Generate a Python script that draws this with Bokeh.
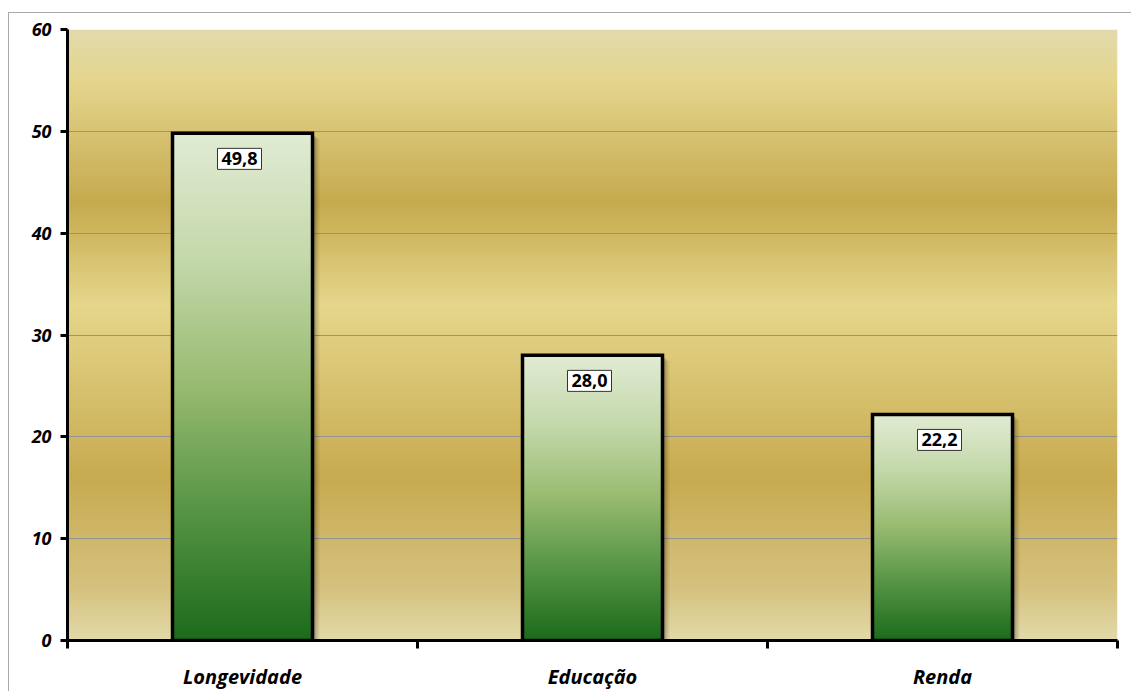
import numpy as np
from bokeh.plotting import figure
from bokeh.models import Range1d, FixedTicker, ColumnDataSource
from bokeh.core.properties import value
from bokeh.embed import file_html
from bokeh.resources import INLINE

categories = ["Longevidade", "Educação", "Renda"]
values = [49.8, 28.0, 22.2]
y_ticks = [0, 10, 20, 30, 40, 50, 60]

FONT = "Open Sans"

p = figure(width=1123, height=679, x_range=Range1d(0, 3), y_range=Range1d(0, 60),
           output_backend="svg", toolbar_location=None,
           min_border_left=58, min_border_right=15, min_border_top=16, min_border_bottom=40,
           outline_line_color=None, background_fill_color="white", border_fill_color="white")
p.margin = (12, 0, 0, 8)
p.styles = {"border-left": "1px solid #aaaaaa", "border-top": "1px solid #aaaaaa"}

# background gradient (golden bands)
stops_v = [0, 5, 16, 33, 43, 55, 60]
stops_c = [(227, 218, 170), (214, 194, 128), (200, 171, 80), (230, 215, 140),
           (198, 170, 78), (229, 214, 142), (226, 219, 172)]
n = 600
yy = np.linspace(0, 60, n)
bg = np.zeros((n, 1), dtype=np.uint32)
view = bg.view(dtype=np.uint8).reshape((n, 1, 4))
for k in range(3):
    view[:, 0, k] = np.interp(yy, stops_v, [c[k] for c in stops_c]).astype(np.uint8)
view[:, 0, 3] = 255
bgr = p.image_rgba(image=[bg], x=0, y=0, dw=3, dh=60)
bgr.level = "image"

# grid
p.xgrid.visible = False
p.ygrid.grid_line_color = "#939393"
p.ygrid.grid_line_width = 1
p.ygrid.ticker = FixedTicker(ticks=y_ticks[1:])

# bars
xc = [i + 0.5 for i in range(len(categories))]
bw = 0.4
px = 1.0 / 349.3
src = ColumnDataSource(dict(x=xc, top=values,
                            lab=[f"{v:.1f}".replace(".", ",") for v in values]))

# shadows
for off, a in [(7, 0.06), (5, 0.10), (3, 0.16)]:
    p.vbar(x=[v + off * px for v in xc], top=[v - off * 0.08 for v in values], bottom=0,
           width=bw, fill_color="black", fill_alpha=a, line_color=None)

gs = [0, 0.25, 0.5, 0.75, 1.0]
gc = [(28, 108, 28), (85, 148, 68), (152, 187, 112), (196, 216, 170), (225, 236, 212)]
m = 300
tt = np.linspace(0, 1, m)
for x, v in zip(xc, values):
    img = np.zeros((m, 1), dtype=np.uint32)
    vw = img.view(dtype=np.uint8).reshape((m, 1, 4))
    for k in range(3):
        vw[:, 0, k] = np.interp(tt, gs, [c[k] for c in gc]).astype(np.uint8)
    vw[:, 0, 3] = 255
    p.image_rgba(image=[img], x=x - bw / 2, y=0, dw=bw, dh=v)

p.vbar(x="x", top="top", bottom=0, width=bw, source=src, fill_color=None,
       line_color="black", line_width=3.5, line_join="miter")

# value labels
p.text(x="x", y="top", text="lab", source=src, x_offset=-3, y_offset=15, text_align="center",
       text_baseline="top", text_font=value(FONT), text_font_style="bold",
       text_font_size="18px", text_color="black",
       background_fill_color="white", border_line_color="#333333", border_line_width=1,
       padding=4)

# axes
p.yaxis.ticker = FixedTicker(ticks=y_ticks)
p.yaxis.axis_line_width = 3
p.yaxis.axis_line_color = "black"
p.yaxis.major_tick_line_width = 3
p.yaxis.major_tick_out = 7
p.yaxis.major_tick_in = 0
p.yaxis.minor_tick_line_color = None
p.yaxis.major_label_text_font = FONT
p.yaxis.major_label_text_font_style = "bold italic"
p.yaxis.major_label_text_font_size = "18px"
p.yaxis.major_label_text_color = "black"
p.yaxis.major_label_standoff = 9

p.xaxis.ticker = FixedTicker(ticks=xc, minor_ticks=[0, 1, 2, 3])
p.xaxis.major_label_overrides = {x: c for x, c in zip(xc, categories)}
p.xaxis.axis_line_width = 3
p.xaxis.axis_line_color = "black"
p.xaxis.major_tick_line_color = None
p.xaxis.minor_tick_line_width = 3
p.xaxis.minor_tick_line_color = "black"
p.xaxis.minor_tick_out = 8
p.xaxis.minor_tick_in = 0
p.xaxis.major_label_text_font = FONT
p.xaxis.major_label_text_font_style = "bold italic"
p.xaxis.major_label_text_font_size = "20px"
p.xaxis.major_label_text_color = "black"
p.xaxis.major_label_standoff = 14

open("out.html", "w").write(file_html(p, INLINE))
